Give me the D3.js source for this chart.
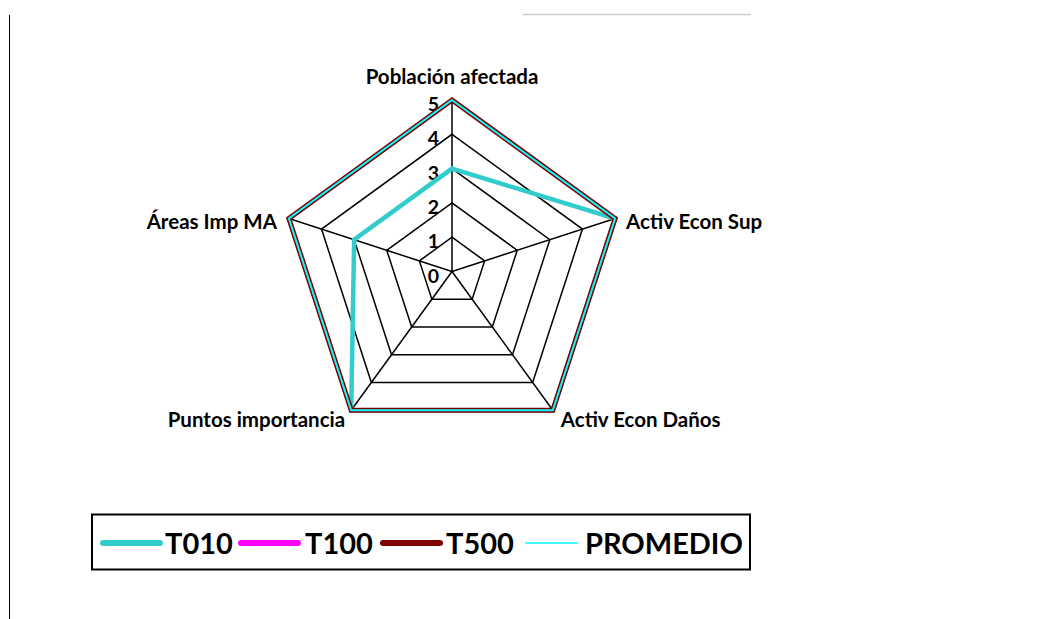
<!DOCTYPE html>
<html>
<head>
<meta charset="utf-8">
<script src="https://cdn.jsdelivr.net/npm/d3@7"></script>
<style>
  body { margin: 0; background: #fff; }
  svg { font-family: Lato, "Open Sans", sans-serif; font-weight: bold; }
</style>
</head>
<body>
<div id="chart"></div>
<script>
// axes of the radar, clockwise from top
const axes = ['Población afectada', 'Activ Econ Sup', 'Activ Econ Daños', 'Puntos importancia', 'Áreas Imp MA'];
const ticks = [0, 1, 2, 3, 4, 5];

const t010 = [3, 5, 5, 5, 3];
const t100 = [5, 5, 5, 5, 5];
const t500 = [5, 5, 5, 5, 5];
const promedio = [5, 5, 5, 5, 5];

const seriesNames = ['T010', 'T100', 'T500', 'PROMEDIO'];
const seriesColors = ['#33CCCC', '#FF00FF', '#800000', '#00FFFF'];
const seriesWidths = [4.5, 4, 5, 2];
const seriesValues = [t010, t100, t500, promedio];

const width = 1048, height = 619;
const cx = 452, cy = 271.5;
const radius = 171.5;

const svg = d3.select('#chart').append('svg')
    .attr('width', width)
    .attr('height', height);

// frame bits around the chart
svg.append('line')
    .attr('x1', 9.5).attr('x2', 9.5).attr('y1', 15).attr('y2', 619)
    .attr('stroke', '#000').attr('stroke-width', 1);
svg.append('line')
    .attr('x1', 523).attr('x2', 751).attr('y1', 14.5).attr('y2', 14.5)
    .attr('stroke', '#ccc').attr('stroke-width', 1.5);

const r = d3.scaleLinear().domain([0, 5]).range([0, radius]);
const angle = i => -Math.PI / 2 + i * 2 * Math.PI / axes.length;
const pt = (v, i) => [cx + r(v) * Math.cos(angle(i)), cy + r(v) * Math.sin(angle(i))];

const g = svg.append('g');

// grid rings
g.selectAll('.ring')
    .data(ticks.slice(1))
    .enter().append('polygon')
        .attr('class', 'ring')
        .attr('points', d => axes.map((a, i) => pt(d, i).join(',')).join(' '))
        .attr('fill', 'none')
        .attr('stroke', '#000')
        .attr('stroke-width', 1.5);

// spokes
g.selectAll('.spoke')
    .data(axes)
    .enter().append('line')
        .attr('class', 'spoke')
        .attr('x1', cx).attr('y1', cy)
        .attr('x2', (d, i) => pt(5, i)[0])
        .attr('y2', (d, i) => pt(5, i)[1])
        .attr('stroke', '#000')
        .attr('stroke-width', 1.5);

// tick labels along the top spoke
g.selectAll('.tick')
    .data(ticks)
    .enter().append('text')
        .attr('class', 'tick')
        .attr('x', cx - 13)
        .attr('y', d => cy - r(d) + 11)
        .attr('text-anchor', 'end')
        .attr('font-size', 19.5)
        .text(d => d);

// series lines
const line = d3.line().curve(d3.curveLinearClosed);
seriesValues.forEach((vals, s) => {
    g.append('path')
        .attr('d', line(vals.map((v, i) => pt(v, i))))
        .attr('fill', 'none')
        .attr('stroke', seriesColors[s])
        .attr('stroke-width', seriesWidths[s])
        .attr('stroke-linejoin', 'miter');
});

// axis labels
const labelPos = [
    { dx: 0, dy: -16, anchor: 'middle' },
    { dx: 11, dy: 10, anchor: 'start' },
    { dx: 8, dy: 17, anchor: 'start' },
    { dx: -6, dy: 17, anchor: 'end' },
    { dx: -12, dy: 10, anchor: 'end' }
];
g.selectAll('.axis-label')
    .data(axes)
    .enter().append('text')
        .attr('class', 'axis-label')
        .attr('x', (d, i) => pt(5, i)[0] + labelPos[i].dx)
        .attr('y', (d, i) => pt(5, i)[1] + labelPos[i].dy)
        .attr('text-anchor', (d, i) => labelPos[i].anchor)
        .attr('font-size', 20.5)
        .text(d => d);

// legend
const legend = svg.append('g');
legend.append('rect')
    .attr('x', 92).attr('y', 514.5)
    .attr('width', 658).attr('height', 55)
    .attr('fill', '#fff')
    .attr('stroke', '#000')
    .attr('stroke-width', 2);

const legendX = [103, 241, 383, 525];
const legendTextX = [165, 305, 446, 585];
seriesNames.forEach((name, s) => {
    legend.append('line')
        .attr('x1', legendX[s]).attr('x2', legendX[s] + (s === 3 ? 53 : 57))
        .attr('y1', 543).attr('y2', 543)
        .attr('stroke', seriesColors[s])
        .attr('stroke-width', s === 3 ? 1.5 : 6)
        .attr('stroke-linecap', s === 3 ? 'butt' : 'round');
    legend.append('text')
        .attr('x', legendTextX[s])
        .attr('y', 553.5)
        .attr('font-size', 29)
        .text(name);
});
</script>
</body>
</html>
